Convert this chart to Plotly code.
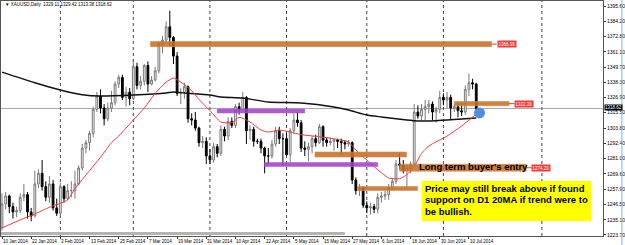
import plotly.graph_objects as go

# ---------------- data ----------------
opens = [1229,1247,1253,1245,1241,1242,1252,1254,1241,1238,1262,1270,1260,1252,1262,1244,1240,1260,1251,1257,
         1257,1262,1274,1289,1293,1300,1318,1328,1319,1311,1319,1323,1337,1342,1327,1331,1326,1350,1336,1339,
         1351,1337,1340,1347,1367,1370,1380,1372,1358,1330,1331,1335,1311,1310,1304,1293,1294,1283,1280,1290,
         1285,1303,1298,1309,1306,1320,1318,1327,1302,1303,1294,1294,1289,1283,1283,1292,1302,1296,1296,1284,
         1302,1310,1308,1289,1288,1290,1296,1293,1305,1295,1293,1294,1295,1294,1293,1292,1293,1265,1257,1259,
         1246,1244,1245,1243,1252,1253,1254,1259,1264,1277,1276,1272,1274,1277,1316,1313,1318,1320,1322,1316,
         1318,1327,1325,1327,1319,1320,1317,1316,1333,1338,1337]
highs = [1255,1256,1254,1248,1245,1255,1262,1256,1244,1272,1273,1280,1264,1268,1265,1251,1263,1261,1262,1264,
         1272,1276,1292,1295,1302,1320,1331,1333,1322,1323,1332,1339,1344,1344,1335,1334,1355,1353,1343,1352,
         1354,1343,1350,1369,1373,1384,1392,1373,1361,1334,1338,1336,1315,1316,1305,1298,1297,1288,1293,1292,
         1306,1305,1312,1312,1322,1323,1331,1328,1306,1305,1296,1296,1290,1289,1295,1305,1305,1300,1300,1304,
         1315,1316,1310,1294,1293,1298,1299,1307,1306,1297,1297,1296,1296,1296,1295,1295,1294,1267,1262,1260,
         1249,1248,1247,1255,1256,1257,1262,1266,1280,1285,1280,1277,1279,1322,1321,1322,1325,1325,1324,1320,
         1332,1330,1331,1329,1322,1323,1323,1336,1345,1341,1338]
lows = [1227,1243,1240,1236,1237,1240,1249,1236,1234,1237,1259,1257,1249,1248,1242,1238,1238,1248,1250,1252,
        1251,1261,1272,1285,1287,1297,1316,1315,1306,1309,1316,1321,1334,1325,1320,1321,1325,1333,1333,1336,
        1331,1336,1339,1345,1360,1368,1365,1352,1328,1322,1326,1308,1306,1302,1290,1289,1277,1277,1278,1282,
        1283,1294,1295,1304,1304,1314,1317,1292,1295,1290,1292,1285,1270,1277,1281,1290,1292,1276,1283,1278,
        1300,1305,1286,1283,1279,1285,1290,1292,1290,1290,1291,1287,1289,1284,1288,1290,1262,1254,1253,1244,
        1240,1239,1240,1240,1248,1250,1250,1257,1262,1273,1270,1259,1270,1275,1311,1310,1310,1315,1310,1308,
        1315,1321,1319,1310,1316,1312,1313,1314,1328,1333,1313.38]
closes = [1247,1253,1245,1241,1242,1252,1254,1241,1238,1262,1270,1260,1252,1262,1244,1240,1260,1251,1257,1257,
          1262,1274,1289,1293,1300,1318,1328,1319,1311,1319,1323,1337,1342,1327,1331,1326,1350,1336,1339,1351,
          1337,1340,1347,1367,1370,1380,1372,1358,1330,1331,1335,1311,1310,1304,1293,1294,1283,1280,1290,1285,
          1303,1298,1309,1306,1320,1318,1327,1302,1303,1294,1294,1289,1283,1283,1292,1302,1296,1296,1284,1302,
          1310,1308,1289,1288,1290,1296,1293,1305,1295,1293,1294,1295,1294,1293,1292,1293,1265,1257,1259,1246,
          1244,1245,1243,1252,1253,1254,1259,1264,1277,1276,1272,1274,1277,1316,1313,1318,1320,1322,1316,1318,
          1327,1325,1327,1319,1320,1317,1316,1333,1338,1337,1318.62]
bar_index = list(range(len(closes)))

date_labels = ["10 Jan 2014", "22 Jan 2014", "3 Feb 2014", "13 Feb 2014", "25 Feb 2014", "7 Mar 2014",
               "19 Mar 2014", "31 Mar 2014", "10 Apr 2014", "22 Apr 2014", "5 May 2014", "15 May 2014",
               "27 May 2014", "6 Jun 2014", "18 Jun 2014", "30 Jun 2014", "10 Jul 2014"]
date_label_idx = [0, 8, 16, 24, 32, 40, 48, 56, 64, 72, 80, 88, 96, 104, 112, 120, 128]
month_start_idx = [16, 36, 57, 78, 100, 121, 148]

price_ticks = [1395.60, 1384.20, 1372.80, 1361.10, 1349.70, 1338.30, 1326.90, 1315.50,
               1303.80, 1292.40, 1281.00, 1269.60, 1257.90, 1246.50, 1235.10, 1223.70]

ma20_idx = [0, 5, 9, 13, 16, 18, 20, 24, 27, 30, 32, 36, 39, 42, 45, 47, 49, 52, 54, 57, 60, 63, 65, 68,
            71, 73, 76, 79, 82, 87, 93, 95, 97, 100, 102, 106, 109, 111, 113, 115, 117, 122, 126, 130]
ma20_val = [1229, 1235, 1239.5, 1244.5, 1247.5, 1250, 1258.5, 1272, 1282, 1293, 1298, 1310, 1319, 1330,
            1338.5, 1341.5, 1338.5, 1332, 1325.5, 1317, 1308.5, 1308, 1312, 1308.5, 1302.5, 1301, 1302.5,
            1301, 1299, 1297.5, 1295, 1293.5, 1287.5, 1280, 1275, 1266.5, 1266, 1269, 1275, 1285, 1290.5,
            1298, 1305.5, 1314.5]
ma200_idx = [0, 9, 16, 22, 27, 36, 45, 47, 50, 57, 60, 66, 73, 82, 91, 95, 100, 104, 111, 114, 117, 122, 126, 130]
ma200_val = [1346, 1338, 1332.5, 1329, 1328, 1328.8, 1330.3, 1331, 1330.3, 1328.8, 1327.3, 1326.5, 1323.5,
             1322.8, 1319.8, 1317.5, 1313.8, 1312.3, 1310, 1309.3, 1309.3, 1310, 1310.8, 1311.5]

orange_start = [40.7, 124, 85.8, 109, 97.5]
orange_end = [134.2, 139, 110.9, 143.7, 113.9]
orange_price = [1366.99, 1322.30, 1284.1, 1274.20, 1258.6]
orange_thick = [3.8, 3.2, 3.8, 5.2, 3.0]
labelled_zones = [0, 1, 3]  # zones carrying a price tag

purple_start = [59, 72]
purple_end = [83, 103]
purple_price = [1316.8, 1276.6]

last_price = 1318.62
title_text = "\u25BC XAUUSD,Daily  1329.11 1329.42 1313.38 1318.62"
highlight_idx = [130.9]
highlight_price = [1315.3]

note_lines = ["Price may still break above if found",
              "support on D1 20MA if trend were to",
              "be bullish."]
entry_text = "Long term buyer's entry"

# ---------------- geometry helpers (pixels -> paper) ----------------
PLOT_W, PLOT_TOP, PLOT_BOT = 604, 1, 236
def pxx(px):
    return px / PLOT_W
def pxy(py):
    return (PLOT_BOT - py) / (PLOT_BOT - PLOT_TOP)

FONT = "Liberation Sans, Arial, sans-serif"

fig = go.Figure()

fig.add_trace(go.Candlestick(
    x=bar_index, open=opens, high=highs, low=lows, close=closes,
    increasing=dict(line=dict(color="#7a7a7a", width=1), fillcolor="#f4f4f4"),
    decreasing=dict(line=dict(color="black", width=1), fillcolor="black"),
    whiskerwidth=0, hoverinfo="skip"))

fig.add_trace(go.Scatter(x=ma200_idx, y=ma200_val, mode="lines",
                         line=dict(color="#111111", width=1.4, shape="spline", smoothing=0.6),
                         hoverinfo="skip"))
fig.add_trace(go.Scatter(x=ma20_idx, y=ma20_val, mode="lines",
                         line=dict(color="#f03c3c", width=1, shape="spline", smoothing=0.6),
                         hoverinfo="skip"))
fig.add_trace(go.Scatter(x=highlight_idx, y=highlight_price, mode="markers",
                         marker=dict(color="#4a8fe0", size=11), hoverinfo="skip"))

shapes = []
# current price line
shapes.append(dict(type="line", xref="paper", x0=0, x1=1, yref="y", y0=last_price, y1=last_price,
                   line=dict(color="#a4a9b0", width=1), layer="below"))
# period separators
for m in month_start_idx:
    shapes.append(dict(type="line", xref="x", x0=m, x1=m, yref="paper", y0=0, y1=1,
                       line=dict(color="#444444", width=1, dash="dot"), layer="below"))
# orange zones
for s, e, p, t in zip(orange_start, orange_end, orange_price, orange_thick):
    shapes.append(dict(type="rect", xref="x", yref="y", x0=s, x1=e, y0=p - t / 2, y1=p + t / 2,
                       fillcolor="rgba(200,112,40,0.88)", line=dict(color="rgba(215,140,70,0.6)", width=1)))
# purple zones
for s, e, p in zip(purple_start, purple_end, purple_price):
    shapes.append(dict(type="rect", xref="x", yref="y", x0=s, x1=e, y0=p - 1.5, y1=p + 1.5,
                       fillcolor="rgba(160,60,200,0.85)", line=dict(color="rgba(180,100,210,0.6)", width=1)))
# price tag connectors
for k in labelled_zones:
    shapes.append(dict(type="line", xref="x", yref="y", x0=orange_end[k], x1=orange_end[k] + 1.4,
                       y0=orange_price[k], y1=orange_price[k], line=dict(color="#e83a3a", width=1)))
# bottom grey band
shapes.append(dict(type="rect", xref="paper", yref="paper", x0=0, x1=pxx(345), y0=pxy(235), y1=pxy(232),
                   fillcolor="#b4b4b4", line=dict(width=0)))
# yellow note box
shapes.append(dict(type="rect", xref="paper", yref="paper", x0=pxx(422), x1=pxx(592), y0=pxy(221), y1=pxy(181),
                   fillcolor="#ffff00", line=dict(width=0)))
# window edge
shapes.append(dict(type="line", xref="paper", yref="paper", x0=pxx(623), x1=pxx(623), y0=-0.05, y1=1.01,
                   line=dict(color="#7ab8e8", width=1)))

annotations = []
annotations.append(dict(xref="paper", yref="paper", x=pxx(2), y=pxy(4), xanchor="left", yanchor="middle",
                        text=title_text, showarrow=False, font=dict(family=FONT, size=4.5, color="black")))
for idx, lab in zip(date_label_idx, date_labels):
    annotations.append(dict(xref="x", yref="paper", x=idx, y=0, xanchor="left", yanchor="top", yshift=-1,
                            xshift=-1, text=lab, showarrow=False,
                            font=dict(family=FONT, size=4.5, color="black")))
annotations.append(dict(xref="paper", yref="y", x=1, y=last_price, xanchor="left", yanchor="middle",
                        xshift=1, yshift=1.5, text=f"{last_price:.2f}", showarrow=False, bgcolor="black",
                        borderpad=0, font=dict(family=FONT, size=4.5, color="white")))
for k in labelled_zones:
    annotations.append(dict(xref="x", yref="y", x=orange_end[k] + 1.4, y=orange_price[k], xanchor="left",
                            yanchor="middle", text=f"{orange_price[k]:.2f}", showarrow=False,
                            bgcolor="#ee3b3b", borderpad=0.5, font=dict(family=FONT, size=4.5, color="white")))
annotations.append(dict(xref="paper", yref="paper", x=pxx(417), y=pxy(166.5), xanchor="left", yanchor="middle",
                        text=f"<b>{entry_text}</b>", showarrow=False,
                        font=dict(family=FONT, size=9.5, color="black")))
for j, line in enumerate(note_lines):
    annotations.append(dict(xref="paper", yref="paper", x=pxx(423), y=pxy(188 + 11.5 * j), xanchor="left",
                            yanchor="middle", text=f"<b>{line}</b>", showarrow=False,
                            font=dict(family=FONT, size=9.5, color="black")))

fig.update_layout(
    width=625, height=245, margin=dict(l=0, r=21, t=1, b=9),
    paper_bgcolor="white", plot_bgcolor="white", showlegend=False,
    shapes=shapes, annotations=annotations,
    xaxis=dict(range=[-0.273, 164.75], rangeslider=dict(visible=False), showgrid=False, zeroline=False,
               tickvals=date_label_idx, ticks="outside", ticklen=2, tickcolor="#333", showticklabels=False,
               showline=True, linecolor="#555", linewidth=1, mirror=True, fixedrange=True),
    yaxis=dict(range=[1222.94, 1399.35], side="right", showgrid=False, zeroline=False,
               tickvals=price_ticks, ticktext=[f"{v:.2f}" for v in price_ticks], ticks="outside",
               ticklen=2, tickcolor="#333", tickfont=dict(family=FONT, size=5, color="black"),
               showline=True, linecolor="#555", linewidth=1, mirror=True, fixedrange=True),
)

fig.write_html("out.html")
